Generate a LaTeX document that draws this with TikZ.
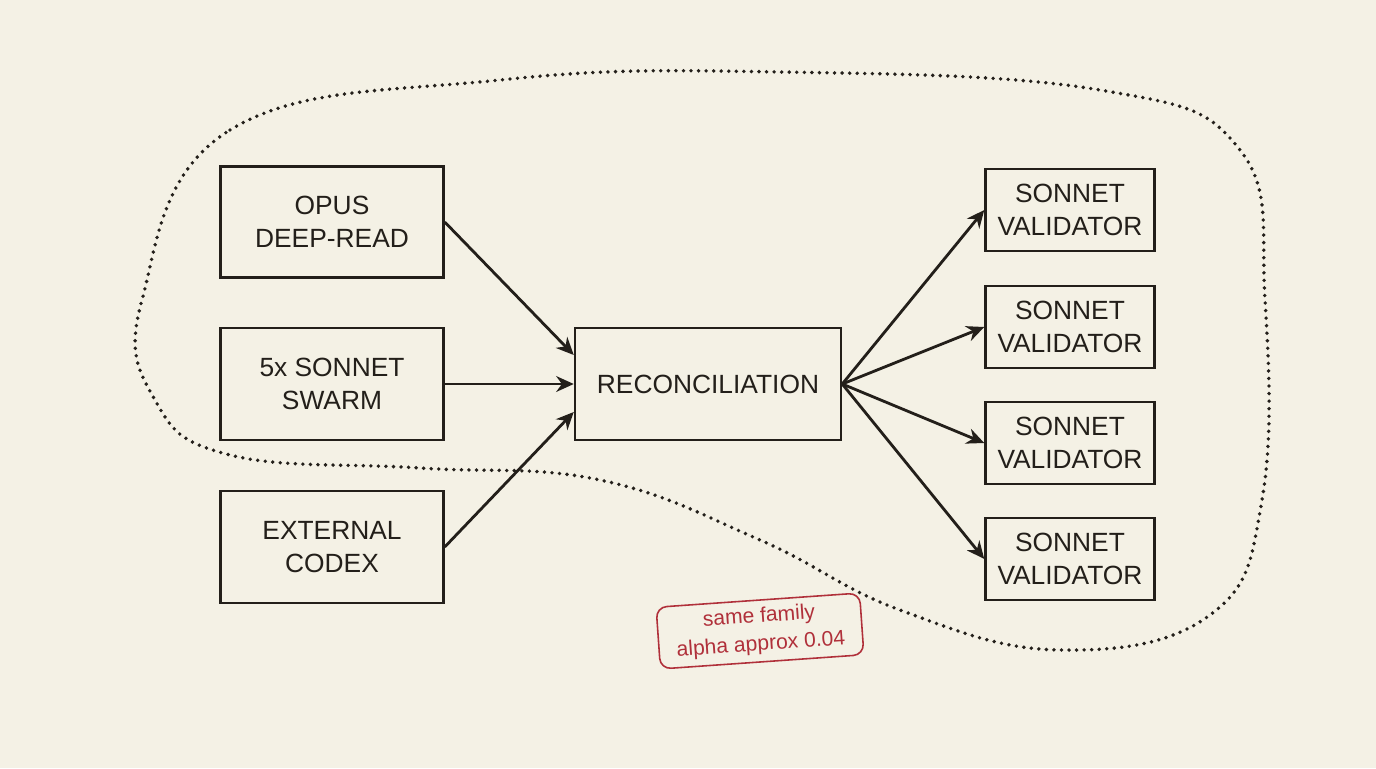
\documentclass[tikz,border=0pt]{standalone}
\usepackage{fontspec}
\setmainfont{Liberation Sans}
\usetikzlibrary{arrows.meta}
\definecolor{paper}{HTML}{F4F1E5}
\definecolor{ink}{HTML}{231F1A}
\definecolor{stampred}{HTML}{B0303A}
\tikzset{
  box/.style={draw=ink, line width=1.4pt, align=center, inner sep=0pt,
    font=\fontsize{15}{19}\selectfont, text=ink},
  flow/.style={draw=ink, line width=1.6pt, -{Stealth[length=10pt,width=9pt]}},
  stamp/.style={draw=stampred, rounded corners=6pt, line width=0.9pt, text=stampred,
    align=center, font=\fontsize{12}{16}\selectfont, inner xsep=10pt, inner ysep=4pt}
}
\begin{document}
\begin{tikzpicture}[x=0.02cm, y=-0.02cm]
  \fill[paper] (0,0) rectangle (1376,768);
  \useasboundingbox (0,0) rectangle (1376,768);
  % group outline
  \draw[ink, line width=2.2pt, line cap=round, dash pattern=on 0pt off 4.3pt] plot[smooth cycle, tension=0.7] coordinates {
    (142,300) (230,130) (500,80) (780,72) (1100,90) (1240,150)
    (1265,300) (1262,500) (1210,615) (1060,650) (900,610) (760,540)
    (600,480) (420,468) (230,455) (155,400)};
  % sources
  \node[box, minimum width=223*0.02cm, minimum height=111*0.02cm] (opus) at (332,222) {OPUS\\DEEP-READ};
  \node[box, minimum width=223*0.02cm, minimum height=112*0.02cm] (swarm) at (332,384) {5x SONNET\\SWARM};
  \node[box, minimum width=223*0.02cm, minimum height=112*0.02cm] (codex) at (332,547) {EXTERNAL\\CODEX};
  \node[box, minimum width=266*0.02cm, minimum height=112*0.02cm] (recon) at (708,384) {RECONCILIATION};
  % validators
  \foreach \i/\y in {1/210,2/327,3/443,4/559}
    \node[box, minimum width=169*0.02cm, minimum height=82*0.02cm] (val\i) at (1070,\y) {SONNET\\VALIDATOR};
  \draw[flow] (opus.east) -- ([yshift=29*0.02cm]recon.west);
  \draw[flow] (swarm.east) -- (recon.west);
  \draw[flow] (codex.east) -- ([yshift=-28*0.02cm]recon.west);
  \foreach \i in {1,...,4}
    \draw[flow] (recon.east) -- (val\i.west);
  % stamp
  \node[stamp, rotate=4] (note) at (760,631) {same family\\alpha approx 0.04};
\end{tikzpicture}
\end{document}
